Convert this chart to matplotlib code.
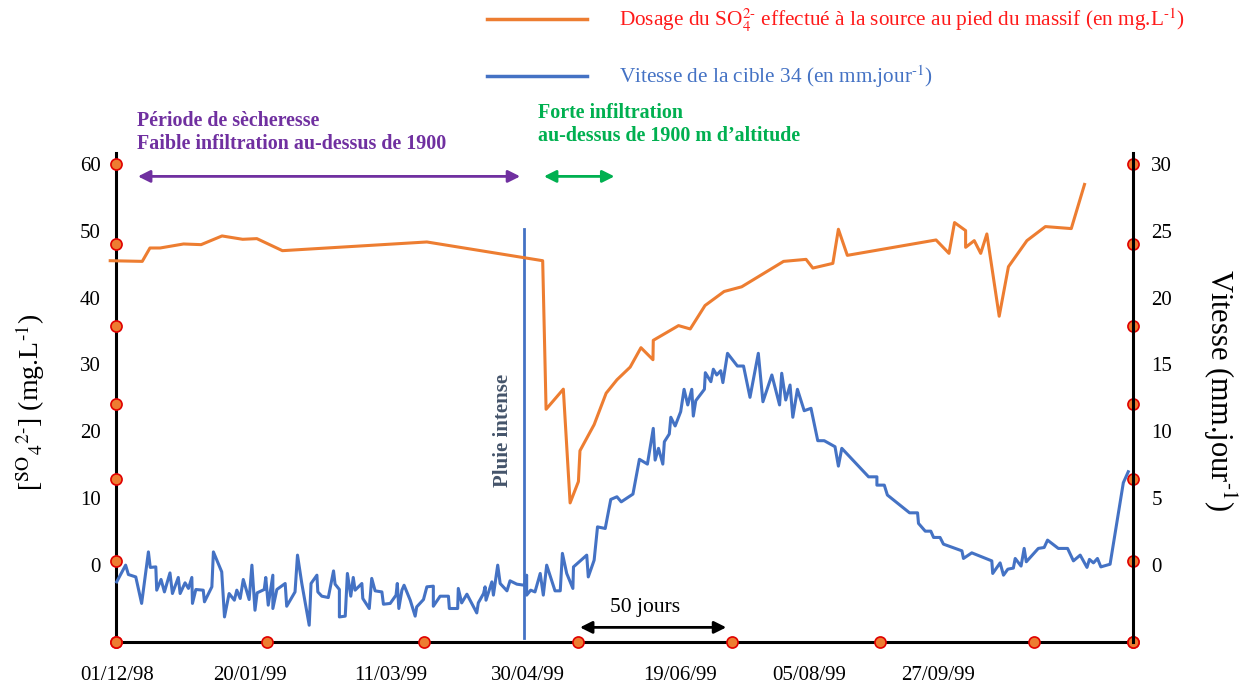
import matplotlib
matplotlib.use("Agg")
import matplotlib.pyplot as plt
from matplotlib.lines import Line2D

plt.rcParams['font.family'] = ['Liberation Serif', 'DejaVu Serif']
plt.rcParams['mathtext.fontset'] = 'stix'

#------------ data input --------------------
# x in days from 01/12/98
so4_days = [-1.9, 8.5, 11.0, 14.3, 21.9, 27.6, 34.4, 41.1, 45.7, 54.0, 100.9,
            138.5, 139.6, 145.2, 147.4, 150.1, 150.6, 155.2, 159.1, 162.6, 166.9,
            170.4, 174.3, 174.4, 182.6, 186.4, 191.2, 197.4, 203.1, 216.7, 224.0,
            226.2, 232.7, 234.5, 237.4, 266.2, 270.4, 272.2, 275.8, 275.8, 278.6,
            280.7, 282.7, 286.7, 289.7, 295.7, 301.7, 310.1, 314.4]
so4_vals = [45.5, 45.4, 47.4, 47.4, 48.0, 47.9, 49.2, 48.7, 48.8, 47.0, 48.3,
            45.5, 23.3, 26.3, 9.3, 12.5, 17.1, 21.0, 25.7, 27.7, 29.6,
            32.5, 30.7, 33.6, 35.8, 35.3, 38.8, 40.9, 41.6, 45.4, 45.7,
            44.4, 45.1, 50.2, 46.3, 48.6, 46.6, 51.2, 50.0, 47.5, 48.5,
            46.6, 49.5, 37.2, 44.6, 48.5, 50.6, 50.3, 56.9]

v34_days = [0.2, 3.1, 4.0, 6.4, 8.3, 10.5, 11.1, 12.9, 13.2, 14.6, 15.7, 17.5, 18.3,
            20.2, 20.8, 22.4, 23.5, 24.6, 24.8, 25.9, 28.3, 28.7, 31.1, 31.6, 34.3,
            35.2, 36.7, 38.4, 39.2, 40.3, 41.3, 43.2, 44.1, 45.1, 45.8, 48.1, 48.6,
            49.4, 50.9, 50.9, 52.2, 54.9, 55.4, 58.1, 58.9, 60.3, 62.7, 63.3, 65.2,
            65.5, 66.8, 68.9, 70.6, 71.1, 72.5, 72.5, 74.4, 75.1, 76.2, 77.0, 77.6,
            79.8, 80.1, 82.2, 83.0, 84.1, 86.3, 86.8, 89.0, 90.9, 91.3, 91.8, 92.8,
            93.5, 95.5, 97.1, 97.6, 99.8, 100.9, 103.0, 103.0, 105.2, 107.9, 108.2,
            110.9, 111.1, 112.2, 113.9, 117.1, 117.6, 119.3, 119.8, 120.1, 122.0,
            122.5, 123.9, 124.7, 126.9, 127.9, 130.1, 132.5, 133.3, 133.3, 134.6,
            136.0, 137.7, 138.7, 139.8, 142.5, 144.2, 144.9, 146.3, 148.3, 148.5,
            152.8, 153.3, 155.2, 156.3, 158.8, 160.6, 162.6, 164.0, 167.8, 169.9,
            172.5, 174.4, 175.0, 176.1, 177.5, 178.0, 179.6, 180.1, 181.5, 183.3,
            184.4, 185.6, 186.9, 187.4, 188.2, 191.0, 191.3, 193.1, 193.9, 195.0,
            196.3, 197.0, 198.5, 201.7, 203.7, 205.8, 208.5, 210.0, 212.9, 215.4,
            216.1, 217.4, 218.8, 219.7, 221.2, 223.4, 225.6, 227.8, 229.9, 233.4,
            234.5, 235.6, 244.3, 247.0, 247.0, 249.4, 250.4, 257.6, 260.2, 260.5,
            262.7, 264.5, 265.4, 267.5, 268.6, 274.6, 275.1, 277.8, 284.3, 284.6,
            287.0, 288.1, 289.5, 291.3, 291.9, 293.8, 294.8, 295.5, 299.4, 301.3,
            302.4, 305.9, 308.9, 310.8, 313.0, 315.2, 316.0, 317.3, 318.6, 319.7,
            322.7, 327.0, 328.6]
v34_vals = [-1.25, 0.0, -0.70, -0.88, -2.86, 0.99, -0.17, -0.13, -1.87, -1.07, -2.0,
            -0.58, -2.12, -0.92, -2.12, -1.32, -1.74, -0.92, -2.86, -1.82, -1.87,
            -2.74, -1.62, 0.99, -0.50, -3.87, -2.12, -2.62, -1.87, -2.49, -1.07,
            -2.57, 0.0, -3.37, -2.07, -1.82, -0.92, -2.99, -0.75, -3.24, -1.82,
            -1.37, -3.07, -2.0, 0.75, -1.37, -4.49, -1.37, -0.75, -2.0, -2.32,
            -2.42, -0.43, -1.42, -1.82, -3.87, -3.81, -0.62, -2.32, -0.92, -1.87,
            -1.37, -2.49, -3.24, -0.99, -1.92, -2.0, -2.92, -2.86, -2.24, -1.37,
            -3.24, -1.87, -1.50, -2.62, -3.81, -3.12, -2.57, -1.62, -1.57, -3.07,
            -2.32, -2.32, -3.24, -3.24, -1.74, -2.82, -2.17, -3.57, -2.82, -2.12,
            -1.62, -2.62, -1.25, -2.24, 0.0, -1.37, -1.92, -1.17, -1.42, -1.50,
            -0.75, -2.24, -1.87, -2.0, -0.62, -2.24, 0.0, -1.92, -1.92, 0.88,
            -0.62, -1.74, -0.13, 0.75, -0.88, 0.37, 2.86, 2.74, 4.91, 5.11, 4.73,
            5.31, 7.91, 7.55, 10.22, 7.85, 8.73, 7.55, 9.22, 9.80, 11.05, 10.40,
            11.47, 13.14, 11.97, 13.14, 11.14, 12.29, 13.14, 14.38, 13.71, 14.64,
            14.21, 14.53, 13.64, 15.83, 14.88, 14.88, 12.54, 15.83, 12.21, 14.21,
            11.97, 14.34, 12.34, 13.46, 11.05, 13.14, 11.54, 11.72, 9.30, 9.30,
            8.85, 7.40, 8.73, 6.60, 6.60, 5.98, 5.98, 5.24, 3.91, 3.91, 3.12,
            2.54, 2.54, 2.07, 2.07, 1.57, 1.07, 0.50, 0.92, 0.32, -0.62, 0.17,
            -0.75, -0.30, -0.22, 0.50, -0.07, 1.25, 0.25, 1.25, 1.32, 1.87, 1.25,
            1.25, 0.32, 0.75, -0.17, 0.43, 0.17, 0.50, -0.13, 0.07, 6.16, 6.98]

date_ticks = [0.3, 43.5, 89.3, 133.8, 183.1, 225.0, 267.0]
date_labels = ['01/12/98', '20/01/99', '11/03/99', '30/04/99',
               '19/06/99', '05/08/99', '27/09/99']
so4_ticks = [0, 10, 20, 30, 40, 50, 60]
v34_ticks = [0, 5, 10, 15, 20, 25, 30]
bottom_dots = [0, 49, 100, 150, 200, 248, 298, 330.2]
side_dots = [60.0, 48.0, 35.8, 24.1, 12.9, 0.6, -11.5]
rain_day = 132.5

orange = '#ed7d31'
blue = '#4472c4'
purple = '#7030a0'
green = '#00b050'

#------------ plot --------------------
fig = plt.figure(figsize=(12.48, 6.86), dpi=100)
ax = fig.add_axes([0.093, 0.064, 0.815, 0.713])
ax2 = ax.twinx()

xmin, xmax = 0, 330.2
ymin, ymax = -11.5, 61.6
ax.set_xlim(xmin, xmax)
ax.set_ylim(ymin, ymax)
ax2.set_ylim(ymin / 2, ymax / 2)

ax.plot(so4_days, so4_vals, color=orange, lw=2.2, clip_on=False, zorder=3)
ax2.plot(v34_days, v34_vals, color=blue, lw=2.2, clip_on=False, zorder=3)

# pluie intense
ax.plot([rain_day, rain_day], [50.3, -10.9], color=blue, lw=2)
ax.text(rain_day - 7, 20.2, 'Pluie intense', rotation=90, ha='center', va='center',
        fontsize=15, fontweight='bold', color='#44546a')

# axes
for a in (ax, ax2):
    for s in a.spines.values():
        s.set_visible(False)
ax.spines['left'].set_visible(True)
ax.spines['bottom'].set_visible(True)
ax2.spines['right'].set_visible(True)
for s in (ax.spines['left'], ax.spines['bottom'], ax2.spines['right']):
    s.set_linewidth(2.2)
    s.set_color('black')

ax.set_yticks(so4_ticks)
ax2.set_yticks(v34_ticks)
ax.set_xticks(date_ticks)
ax.set_xticklabels(date_labels)
ax.tick_params(axis='y', length=0, pad=11, labelsize=15)
ax.tick_params(axis='x', length=0, pad=17, labelsize=15)
ax2.tick_params(axis='y', length=0, pad=13, labelsize=15)

# dots on the axes
dot_style = dict(marker='o', ls='none', ms=8, mfc=orange, mec='#e00000', mew=1.2,
                 clip_on=False, zorder=5)
ax.plot(bottom_dots, [ymin] * len(bottom_dots), **dot_style)
ax.plot([xmin] * len(side_dots), side_dots, **dot_style)
ax.plot([xmax] * len(side_dots), side_dots, **dot_style)

# labels
fig.text(0.024, 0.413, r'[$^{\mathrm{SO}}{}_{4}{}^{2\text{-}}$] (mg.L$^{\text{-1}}$)',
         rotation=90, ha='center', va='center', fontsize=20)
fig.text(0.977, 0.432, r'Vitesse (mm.jour$^{\text{-1}}$)', rotation=270,
         ha='center', va='center', fontsize=22)

# periods
ax.annotate('', xy=(6.2, 58.1), xytext=(132.1, 58.1),
            arrowprops=dict(arrowstyle='<|-|>', color=purple, lw=2, mutation_scale=18),
            annotation_clip=False)
ax.text(6.8, 64.6, 'Période de sècheresse\nFaible infiltration au-dessus de 1900',
        color=purple, fontsize=14.4, fontweight='bold', va='center', ha='left',
        linespacing=1.2)
ax.annotate('', xy=(138.0, 58.1), xytext=(162.7, 58.1),
            arrowprops=dict(arrowstyle='<|-|>', color=green, lw=2, mutation_scale=18),
            annotation_clip=False)
ax.text(137.0, 65.8, 'Forte infiltration\nau-dessus de 1900 m d\u2019altitude',
        color=green, fontsize=14.4, fontweight='bold', va='center', ha='left',
        linespacing=1.2)

# 50 jours
ax.annotate('', xy=(149.7, -9.3), xytext=(199.0, -9.3),
            arrowprops=dict(arrowstyle='<|-|>', color='black', lw=2, mutation_scale=18),
            annotation_clip=False)
ax.text(171.8, -6.4, '50 jours', ha='center', va='center', fontsize=15.5)

# legend
handles = [Line2D([], [], color=orange, lw=2.5), Line2D([], [], color=blue, lw=2.5)]
labels = [r'Dosage du SO$_4^{2\text{-}}$ effectué à la source au pied du massif (en mg.L$^{\text{-1}}$)',
          r'Vitesse de la cible 34 (en mm.jour$^{\text{-1}}$)']
fig.legend(handles, labels, loc='upper left', bbox_to_anchor=(0.382, 1.006),
           frameon=False, fontsize=15.3, handlelength=4.7, handletextpad=1.5,
           labelspacing=1.4, borderpad=0.0, labelcolor=['#ff1a1a', blue])

plt.savefig('out.png', dpi=100)
